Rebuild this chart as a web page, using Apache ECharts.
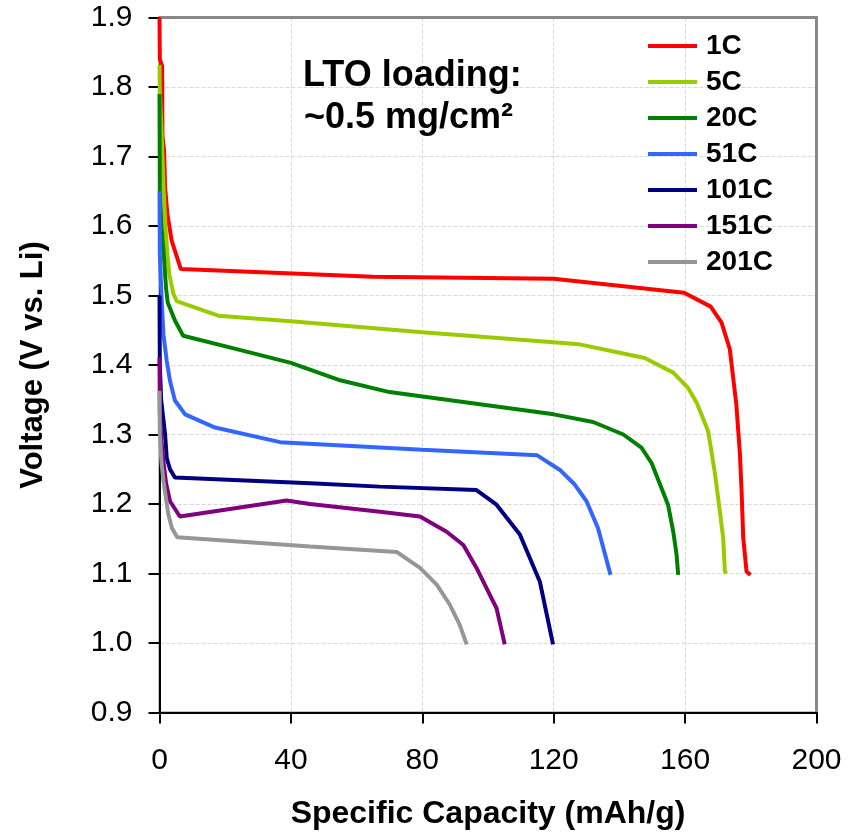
<!DOCTYPE html>
<html>
<head>
<meta charset="utf-8">
<script src="https://cdn.jsdelivr.net/npm/echarts@6/dist/echarts.min.js"></script>
<style>
  html, body { margin: 0; padding: 0; background: #fff; }
  #main { width: 857px; height: 832px; }
</style>
</head>
<body>
<div id="main"></div>
<script>
// discharge curves, [capacity mAh/g, voltage V]
var rates = ['1C', '5C', '20C', '51C', '101C', '151C', '201C'];
var colors = ['#FF0000', '#99CC00', '#008000', '#3366FF', '#000080', '#800080', '#969696'];

var c1C = [[0,1.9],[0.1,1.84],[0.8,1.83],[0.9,1.73],[1.4,1.709],[1.7,1.656],[2.4,1.617],[3.7,1.579],[6.5,1.538],
  [65,1.527],[120,1.524],[159.7,1.504],[167.8,1.484],[171.1,1.461],[173.6,1.423],[175.6,1.343],[176.7,1.271],
  [177.2,1.218],[177.7,1.151],[178.7,1.103],[179.9,1.098]];
var c5C = [[0,1.832],[0.1,1.79],[0.6,1.74],[0.9,1.70],[1.3,1.65],[1.8,1.60],[2.4,1.56],[3.0,1.53],[4.2,1.503],
  [5.2,1.492],[17.9,1.471],[40,1.463],[80,1.447],[121.9,1.432],[127.5,1.430],[147.7,1.410],[156.4,1.389],
  [160.9,1.367],[163.5,1.346],[167.0,1.305],[169.0,1.247],[170.6,1.189],[171.6,1.151],[172.1,1.103],[172.6,1.100]];
var c20C = [[0,1.79],[0.1,1.65],[0.6,1.60],[1.3,1.56],[2.0,1.51],[2.5,1.49],[4.7,1.464],[7.2,1.442],[25,1.421],
  [40,1.403],[55,1.378],[70,1.361],[120,1.329],[132,1.318],[141.2,1.300],[146.7,1.281],[149.8,1.259],
  [152.8,1.223],[154.8,1.199],[156.4,1.160],[157.4,1.127],[157.9,1.098]];
var c51C = [[0,1.65],[0.1,1.56],[0.6,1.50],[1.2,1.444],[2.2,1.406],[3.2,1.377],[4.7,1.349],[7.8,1.329],
  [16.9,1.310],[36.7,1.289],[80,1.278],[115,1.270],[121.9,1.249],[126.4,1.228],[130,1.204],[133.5,1.165],[137.3,1.098]];
var c101C = [[0,1.50],[0.1,1.40],[0.5,1.35],[1.7,1.30],[2.2,1.266],[3.2,1.25],[4.7,1.238],[45.8,1.230],
  [67.1,1.225],[96.5,1.220],[102.6,1.199],[109.7,1.156],[115.8,1.088],[119.8,0.998]];
var c151C = [[0,1.411],[0.1,1.33],[0.6,1.29],[1.2,1.261],[2.0,1.23],[3.2,1.204],[6.2,1.182],[38.7,1.205],
  [45.8,1.200],[67.1,1.189],[79.3,1.182],[87.4,1.160],[92.5,1.141],[96.5,1.108],[100.6,1.069],[102.6,1.050],[105.1,0.998]];
var c201C = [[0,1.363],[0.1,1.30],[0.6,1.26],[1.2,1.233],[2.7,1.185],[3.8,1.165],[5.4,1.152],[45.8,1.139],
  [72.2,1.131],[79.3,1.108],[84.4,1.084],[88.4,1.055],[91.4,1.026],[93.5,0.998]];
var curves = [c1C, c5C, c20C, c51C, c101C, c151C, c201C];

var xTicks = [0, 40, 80, 120, 160, 200];
var yTicks = [0.9, 1.0, 1.1, 1.2, 1.3, 1.4, 1.5, 1.6, 1.7, 1.8, 1.9];

var font = '"Liberation Sans", Arial, sans-serif';

var series = [];
for (var i = 0; i < rates.length; i++) {
  series.push({
    name: rates[i],
    type: 'line',
    data: curves[i],
    symbol: 'none',
    smooth: false,
    lineStyle: { color: colors[i], width: 4 },
    itemStyle: { color: colors[i] }
  });
}

// gray frame on the top and right, like the plot area border
var frameAxis = {
  type: 'value',
  axisLine: { show: true, onZero: false, lineStyle: { color: '#888', width: 3 } },
  axisTick: { show: false },
  axisLabel: { show: false },
  splitLine: { show: false }
};

var myChart = echarts.init(document.getElementById('main'));
var option = {
  animation: false,
  backgroundColor: '#fff',
  grid: {
    left: 159.5, top: 17.5, width: 657, height: 695,
    outerBoundsMode: 'none',
    show: true, borderColor: '#888', borderWidth: 2, backgroundColor: 'transparent'
  },
  legend: {
    orient: 'vertical',
    left: 648, top: 32, padding: 0,
    itemWidth: 49, itemHeight: 4, itemGap: 8,
    icon: 'rect',
    data: rates,
    textStyle: { fontFamily: font, fontSize: 28, fontWeight: 'bold', color: '#000', lineHeight: 28, padding: [0, 0, 0, 4] }
  },
  xAxis: [{
    type: 'value',
    min: xTicks[0], max: xTicks[xTicks.length - 1], interval: 40,
    name: 'Specific Capacity (mAh/g)',
    nameLocation: 'middle', nameGap: 86,
    nameTextStyle: { fontFamily: font, fontSize: 32, fontWeight: 'bold', color: '#000' },
    axisLine: { show: true, onZero: false, lineStyle: { color: '#000', width: 2 } },
    axisTick: { show: true, length: 11, lineStyle: { color: '#000', width: 2 } },
    axisLabel: { margin: 33, fontFamily: font, fontSize: 30, color: '#000' },
    splitLine: { show: true, lineStyle: { color: '#d9d9d9', width: 1, type: 'dashed' } }
  }, Object.assign({}, frameAxis, { position: 'top', min: 0, max: 200 })],
  yAxis: [{
    type: 'value',
    min: yTicks[0], max: yTicks[yTicks.length - 1], interval: 0.1,
    name: 'Voltage (V vs. Li)',
    nameLocation: 'middle', nameGap: 111, nameRotate: 90,
    nameTextStyle: { fontFamily: font, fontSize: 31, fontWeight: 'bold', color: '#000' },
    axisLine: { show: true, onZero: false, lineStyle: { color: '#000', width: 2 } },
    axisTick: { show: true, length: 11, lineStyle: { color: '#000', width: 2 } },
    axisLabel: {
      margin: 27, fontFamily: font, fontSize: 30, color: '#000',
      formatter: function (v) { return v.toFixed(1); }
    },
    splitLine: { show: true, lineStyle: { color: '#d9d9d9', width: 1, type: 'dashed' } }
  }, Object.assign({}, frameAxis, { position: 'right', min: 0.9, max: 1.9 })],
  graphic: [
    { type: 'text', left: 303, top: 58, z: 10,
      style: { text: 'LTO loading:', font: 'bold 36px ' + font, fill: '#000' } },
    { type: 'text', left: 304, top: 100, z: 10,
      style: { text: '~0.5 mg/cm\u00B2', font: 'bold 36px ' + font, fill: '#000' } }
  ],
  series: series
};
myChart.setOption(option);
</script>
</body>
</html>
